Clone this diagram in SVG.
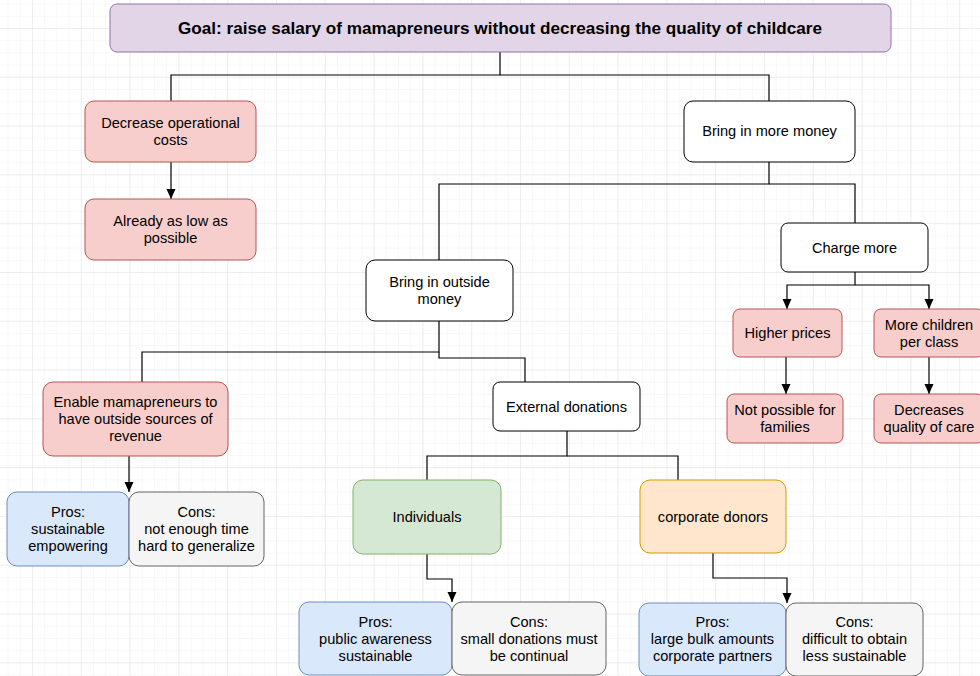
<svg xmlns="http://www.w3.org/2000/svg" width="980" height="676" viewBox="0 0 980 676">
<defs>
<pattern id="minor" x="32" y="28" width="12.2" height="12.2" patternUnits="userSpaceOnUse">
<path d="M0 0H12.2M0 0V12.2" fill="none" stroke="#f1f1f1" stroke-width="1"/>
</pattern>
<pattern id="major" x="32" y="28" width="48.8" height="48.8" patternUnits="userSpaceOnUse">
<path d="M0 0H48.8M0 0V48.8" fill="none" stroke="#e3e3e3" stroke-width="1"/>
</pattern>
<marker id="arr" viewBox="0 0 10 10" refX="10" refY="5" markerWidth="10" markerHeight="10" markerUnits="userSpaceOnUse" orient="auto">
<path d="M0 0.5L10 5L0 9.5Z" fill="#000"/>
</marker>
</defs>
<style>
text{font-family:"Liberation Sans",Arial,Helvetica,sans-serif;font-size:14.6px;fill:#000;text-anchor:middle}
.b{font-weight:bold;font-size:16.5px}
.w{fill:#fff;stroke:#000;stroke-width:1}
.r{fill:#f8cecc;stroke:#b85450;stroke-width:1}
.p{fill:#e1d5e7;stroke:#9673a6;stroke-width:1}
.bl{fill:#dae8fc;stroke:#6c8ebf;stroke-width:1}
.g{fill:#f5f5f5;stroke:#666;stroke-width:1}
.gr{fill:#d5e8d4;stroke:#82b366;stroke-width:1}
.o{fill:#ffe6cc;stroke:#d79b00;stroke-width:1}
.c{fill:none;stroke:#000;stroke-width:1.2}
.ca{fill:none;stroke:#000;stroke-width:1.2;marker-end:url(#arr)}
</style>
<rect width="980" height="676" fill="#fff"/>
<rect width="980" height="676" fill="url(#minor)"/>
<rect width="980" height="676" fill="url(#major)"/>

<g id="connectors">
<path class="c" d="M500 52V75H171V101"/>
<path class="c" d="M500 75H769V101"/>
<path class="ca" d="M171 162V199"/>
<path class="c" d="M769 162V184H439V260"/>
<path class="c" d="M769 184H855V223"/>
<path class="ca" d="M855 272V285H787V309"/>
<path class="ca" d="M855 285H929V309"/>
<path class="ca" d="M786 357V394"/>
<path class="ca" d="M929 357V394"/>
<path class="c" d="M439 321V352H142V382"/>
<path class="c" d="M439 352V358H525V382"/>
<path class="ca" d="M129 456V492"/>
<path class="c" d="M567 431V456H427V480"/>
<path class="c" d="M567 456H678V480"/>
<path class="ca" d="M427 554V579H452V602"/>
<path class="ca" d="M713 553V578H787V603"/>
</g>

<g id="goal">
<rect class="p" x="110" y="4" width="781" height="48" rx="7"/>
<text class="b" x="500" y="34" textLength="644" lengthAdjust="spacingAndGlyphs">Goal: raise salary of mamapreneurs without decreasing the quality of childcare</text>
</g>
<g id="decrease-costs">
<rect class="r" x="85" y="101" width="171" height="61" rx="9"/>
<text x="170.5" y="128">Decrease operational</text>
<text x="170.5" y="145">costs</text>
</g>
<g id="already-low">
<rect class="r" x="85" y="199" width="171" height="61" rx="9"/>
<text x="170.5" y="226">Already as low as</text>
<text x="170.5" y="243">possible</text>
</g>
<g id="more-money">
<rect class="w" x="684" y="101" width="171" height="61" rx="9"/>
<text x="769.5" y="136">Bring in more money</text>
</g>
<g id="charge-more">
<rect class="w" x="781" y="223" width="147" height="49" rx="7"/>
<text x="854.5" y="253">Charge more</text>
</g>
<g id="outside-money">
<rect class="w" x="366" y="260" width="147" height="61" rx="9"/>
<text x="439.5" y="287">Bring in outside</text>
<text x="439.5" y="304">money</text>
</g>
<g id="higher-prices">
<rect class="r" x="733" y="309" width="109" height="48" rx="7"/>
<text x="787.5" y="338">Higher prices</text>
</g>
<g id="more-children">
<rect class="r" x="874" y="309" width="110" height="48" rx="7"/>
<text x="929" y="330">More children</text>
<text x="929" y="347">per class</text>
</g>
<g id="not-possible">
<rect class="r" x="727" y="394" width="116" height="49" rx="7"/>
<text x="785" y="415">Not possible for</text>
<text x="785" y="432">families</text>
</g>
<g id="decreases-quality">
<rect class="r" x="874" y="394" width="110" height="49" rx="7"/>
<text x="929" y="415">Decreases</text>
<text x="929" y="432">quality of care</text>
</g>
<g id="enable">
<rect class="r" x="43" y="382" width="185" height="74" rx="10"/>
<text x="135.5" y="407">Enable mamapreneurs to</text>
<text x="135.5" y="424">have outside sources of</text>
<text x="135.5" y="441">revenue</text>
</g>
<g id="enable-pros">
<rect class="bl" x="7" y="492" width="122" height="74" rx="10"/>
<text x="68" y="517">Pros:</text>
<text x="68" y="534">sustainable</text>
<text x="68" y="551">empowering</text>
</g>
<g id="enable-cons">
<rect class="g" x="129" y="492" width="135" height="74" rx="10"/>
<text x="196.5" y="517">Cons:</text>
<text x="196.5" y="534">not enough time</text>
<text x="196.5" y="551">hard to generalize</text>
</g>
<g id="external-donations">
<rect class="w" x="493" y="382" width="147" height="49" rx="7"/>
<text x="566.5" y="412">External donations</text>
</g>
<g id="individuals">
<rect class="gr" x="353" y="480" width="148" height="74" rx="10"/>
<text x="427" y="522">Individuals</text>
</g>
<g id="corporate">
<rect class="o" x="640" y="480" width="146" height="73" rx="10"/>
<text x="713" y="522">corporate donors</text>
</g>
<g id="ind-pros">
<rect class="bl" x="299" y="602" width="153" height="73" rx="10"/>
<text x="375.5" y="627">Pros:</text>
<text x="375.5" y="644">public awareness</text>
<text x="375.5" y="661">sustainable</text>
</g>
<g id="ind-cons">
<rect class="g" x="452" y="602" width="154" height="73" rx="10"/>
<text x="529" y="627">Cons:</text>
<text x="529" y="644">small donations must</text>
<text x="529" y="661">be continual</text>
</g>
<g id="corp-pros">
<rect class="bl" x="639" y="603" width="147" height="73" rx="10"/>
<text x="712.5" y="627">Pros:</text>
<text x="712.5" y="644">large bulk amounts</text>
<text x="712.5" y="661">corporate partners</text>
</g>
<g id="corp-cons">
<rect class="g" x="786" y="603" width="137" height="73" rx="10"/>
<text x="854.5" y="627">Cons:</text>
<text x="854.5" y="644">difficult to obtain</text>
<text x="854.5" y="661">less sustainable</text>
</g>
</svg>
